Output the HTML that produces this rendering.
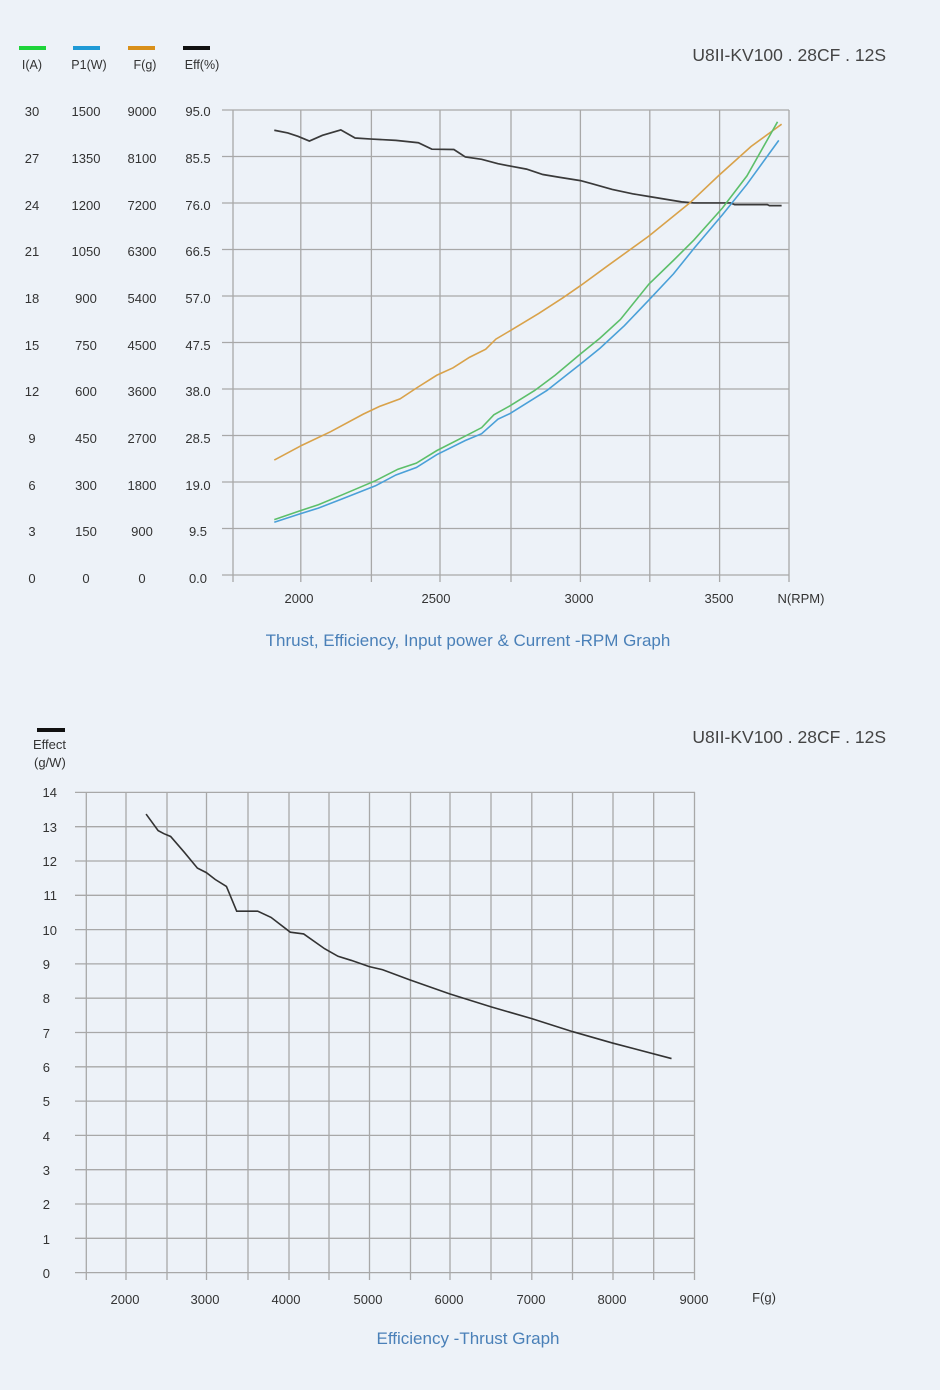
<!DOCTYPE html>
<html><head><meta charset="utf-8"><style>
html,body{margin:0;padding:0;background:#edf2f8;}
body{width:940px;height:1385px;overflow:hidden;font-family:"Liberation Sans",sans-serif;}
svg text{font-family:"Liberation Sans",sans-serif;}
</style></head><body>
<svg width="940" height="1385" viewBox="0 0 940 1385" xmlns="http://www.w3.org/2000/svg">
<rect width="940" height="1385" fill="#edf2f8"/>
<g fill="#333">
<rect x="19" y="46" width="27" height="4" fill="#1ed43a"/>
<rect x="73" y="46" width="27" height="4" fill="#1f9ad6"/>
<rect x="128" y="46" width="27" height="4" fill="#d9901a"/>
<rect x="183" y="46" width="27" height="4" fill="#111"/>
<g font-size="12.5" text-anchor="middle">
<text x="32" y="69">I(A)</text><text x="89" y="69">P1(W)</text><text x="145" y="69">F(g)</text><text x="202" y="69">Eff(%)</text>
</g>
<text x="886" y="61" font-size="17.5" text-anchor="end" style="fill:#444">U8II-KV100 . 28CF . 12S</text>
<g font-size="13" text-anchor="middle">
<text x="32" y="116">30</text><text x="86" y="116">1500</text><text x="142" y="116">9000</text><text x="198" y="116">95.0</text>
<text x="32" y="163">27</text><text x="86" y="163">1350</text><text x="142" y="163">8100</text><text x="198" y="163">85.5</text>
<text x="32" y="210">24</text><text x="86" y="210">1200</text><text x="142" y="210">7200</text><text x="198" y="210">76.0</text>
<text x="32" y="256">21</text><text x="86" y="256">1050</text><text x="142" y="256">6300</text><text x="198" y="256">66.5</text>
<text x="32" y="303">18</text><text x="86" y="303">900</text><text x="142" y="303">5400</text><text x="198" y="303">57.0</text>
<text x="32" y="350">15</text><text x="86" y="350">750</text><text x="142" y="350">4500</text><text x="198" y="350">47.5</text>
<text x="32" y="396">12</text><text x="86" y="396">600</text><text x="142" y="396">3600</text><text x="198" y="396">38.0</text>
<text x="32" y="443">9</text><text x="86" y="443">450</text><text x="142" y="443">2700</text><text x="198" y="443">28.5</text>
<text x="32" y="490">6</text><text x="86" y="490">300</text><text x="142" y="490">1800</text><text x="198" y="490">19.0</text>
<text x="32" y="536">3</text><text x="86" y="536">150</text><text x="142" y="536">900</text><text x="198" y="536">9.5</text>
<text x="32" y="583">0</text><text x="86" y="583">0</text><text x="142" y="583">0</text><text x="198" y="583">0.0</text>
</g>
<g stroke="#a8a8a8" stroke-width="1.3">
<line x1="222" y1="110" x2="789" y2="110"/><line x1="222" y1="156.5" x2="789" y2="156.5"/>
<line x1="222" y1="203" x2="789" y2="203"/><line x1="222" y1="249.5" x2="789" y2="249.5"/>
<line x1="222" y1="296" x2="789" y2="296"/><line x1="222" y1="342.5" x2="789" y2="342.5"/>
<line x1="222" y1="389" x2="789" y2="389"/><line x1="222" y1="435.5" x2="789" y2="435.5"/>
<line x1="222" y1="482" x2="789" y2="482"/><line x1="222" y1="528.5" x2="789" y2="528.5"/>
<line x1="222" y1="575" x2="789" y2="575"/>
<line x1="233" y1="110" x2="233" y2="582"/><line x1="300.8" y1="110" x2="300.8" y2="582"/>
<line x1="371.4" y1="110" x2="371.4" y2="582"/><line x1="440" y1="110" x2="440" y2="582"/>
<line x1="511" y1="110" x2="511" y2="582"/><line x1="580.4" y1="110" x2="580.4" y2="582"/>
<line x1="649.8" y1="110" x2="649.8" y2="582"/><line x1="719.6" y1="110" x2="719.6" y2="582"/>
<line x1="789" y1="110" x2="789" y2="582"/>
</g>
<g font-size="13" text-anchor="middle">
<text x="299" y="603">2000</text><text x="436" y="603">2500</text><text x="579" y="603">3000</text><text x="719" y="603">3500</text><text x="801" y="603">N(RPM)</text>
</g>
<g transform="translate(200,89.7) scale(0.40816,0.33795)" fill="none" stroke-width="1.6">
<polyline vector-effect="non-scaling-stroke" stroke="#3a3a3a" stroke-width="1.7" points="182,120 215,128 240,138 268,152 300,135 345,119 380,143 420,146 480,150 535,157 568,176 622,177 650,199 690,206 730,219 760,226 800,235 840,251 880,259 932,269 960,278 1010,295 1060,308 1100,316 1150,326 1180,332 1210,335 1260,335 1300,335 1310,340 1390,340 1395,343 1425,343"/>
<polyline vector-effect="non-scaling-stroke" stroke="#d9a24a" points="182,1096 250,1052 320,1012 400,960 440,937 490,915 530,883 580,845 620,823 660,792 700,768 725,738 760,713 830,662 890,615 932,580 1000,520 1100,433 1200,335 1270,255 1350,168 1425,102"/>
<polyline vector-effect="non-scaling-stroke" stroke="#5cbf6a" points="182,1272 240,1248 290,1228 350,1198 430,1157 485,1123 530,1105 580,1068 650,1025 690,1000 720,962 760,935 820,890 870,845 932,782 980,735 1030,680 1100,575 1160,505 1210,445 1280,350 1340,255 1415,95"/>
<polyline vector-effect="non-scaling-stroke" stroke="#4aa0d8" points="182,1280 240,1257 290,1238 350,1210 430,1172 480,1140 530,1118 580,1080 650,1038 690,1018 730,975 760,958 850,890 932,812 980,765 1040,698 1100,622 1160,545 1210,470 1280,370 1340,280 1418,150"/>
</g>
<text x="468" y="646" font-size="17" text-anchor="middle" style="fill:#4a80b8">Thrust, Efficiency, Input power &amp; Current -RPM Graph</text>

<rect x="37" y="728" width="28" height="4" fill="#111"/>
<text x="33" y="749" font-size="13">Effect</text>
<text x="34" y="767" font-size="13">(g/W)</text>
<text x="886" y="743" font-size="17.5" text-anchor="end" style="fill:#444">U8II-KV100 . 28CF . 12S</text>
<g font-size="13" text-anchor="end">
<text x="57" y="797">14</text><text x="57" y="832">13</text><text x="57" y="866">12</text><text x="57" y="900">11</text>
<text x="57" y="935">10</text><text x="50" y="969">9</text><text x="50" y="1003">8</text><text x="50" y="1038">7</text>
<text x="50" y="1072">6</text><text x="50" y="1106">5</text><text x="50" y="1141">4</text><text x="50" y="1175">3</text>
<text x="50" y="1209">2</text><text x="50" y="1244">1</text><text x="50" y="1278">0</text>
</g>
<g stroke="#a8a8a8" stroke-width="1.3">
<line x1="75" y1="792.4" x2="695" y2="792.4"/><line x1="75" y1="826.7" x2="695" y2="826.7"/>
<line x1="75" y1="861" x2="695" y2="861"/><line x1="75" y1="895.3" x2="695" y2="895.3"/>
<line x1="75" y1="929.6" x2="695" y2="929.6"/><line x1="75" y1="963.9" x2="695" y2="963.9"/>
<line x1="75" y1="998.2" x2="695" y2="998.2"/><line x1="75" y1="1032.5" x2="695" y2="1032.5"/>
<line x1="75" y1="1066.8" x2="695" y2="1066.8"/><line x1="75" y1="1101.1" x2="695" y2="1101.1"/>
<line x1="75" y1="1135.4" x2="695" y2="1135.4"/><line x1="75" y1="1169.7" x2="695" y2="1169.7"/>
<line x1="75" y1="1204" x2="695" y2="1204"/><line x1="75" y1="1238.3" x2="695" y2="1238.3"/>
<line x1="75" y1="1272.6" x2="695" y2="1272.6"/>
<line x1="86.3" y1="792" x2="86.3" y2="1280"/><line x1="126" y1="792" x2="126" y2="1280"/>
<line x1="167" y1="792" x2="167" y2="1280"/><line x1="206.5" y1="792" x2="206.5" y2="1280"/>
<line x1="248" y1="792" x2="248" y2="1280"/><line x1="289" y1="792" x2="289" y2="1280"/>
<line x1="329" y1="792" x2="329" y2="1280"/><line x1="369.5" y1="792" x2="369.5" y2="1280"/>
<line x1="410.5" y1="792" x2="410.5" y2="1280"/><line x1="450" y1="792" x2="450" y2="1280"/>
<line x1="491" y1="792" x2="491" y2="1280"/><line x1="531.8" y1="792" x2="531.8" y2="1280"/>
<line x1="572.5" y1="792" x2="572.5" y2="1280"/><line x1="613" y1="792" x2="613" y2="1280"/>
<line x1="653.7" y1="792" x2="653.7" y2="1280"/><line x1="694.5" y1="792" x2="694.5" y2="1280"/>
</g>
<g font-size="13" text-anchor="middle">
<text x="125" y="1304">2000</text><text x="205" y="1304">3000</text><text x="286" y="1304">4000</text><text x="368" y="1304">5000</text>
<text x="449" y="1304">6000</text><text x="531" y="1304">7000</text><text x="612" y="1304">8000</text><text x="694" y="1304">9000</text>
<text x="764" y="1302">F(g)</text>
</g>
<g transform="translate(30,770) scale(0.44643,0.34435)" fill="none">
<polyline vector-effect="non-scaling-stroke" stroke="#333" stroke-width="1.6" points="260,128 287,176 300,185 315,193 345,238 375,285 395,298 415,318 440,338 463,410 510,410 540,428 583,471 613,476 660,519 690,541 720,553 760,571 790,580 850,609 940,650 1033,688 1124,722 1216,760 1305,793 1437,838"/>
</g>
<text x="468" y="1344" font-size="17" text-anchor="middle" style="fill:#4a80b8">Efficiency -Thrust Graph</text>
</g>
</svg>
</body></html>
